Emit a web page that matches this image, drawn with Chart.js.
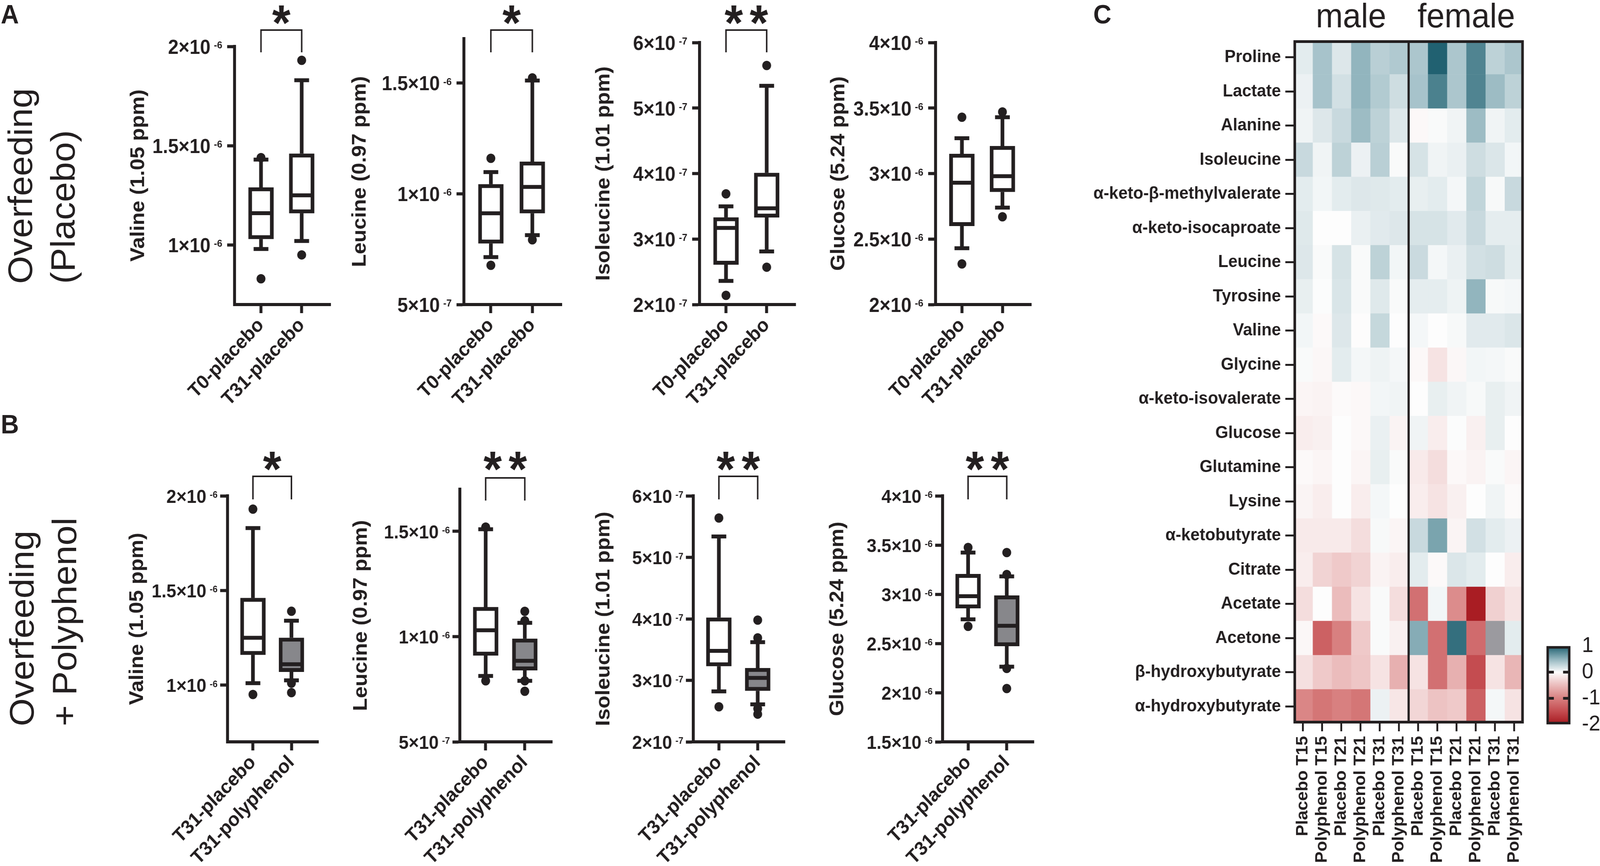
<!DOCTYPE html>
<html>
<head>
<meta charset="utf-8">
<script src="https://cdn.jsdelivr.net/npm/chart.js@4.4.1/dist/chart.umd.min.js"></script>
<style>
  html, body { margin: 0; padding: 0; background: #fff; overflow: hidden; }
  #page { position: absolute; left: 0; top: 0; width: 4332px; height: 2218px; transform-origin: 0 0;
          font-family: 'Liberation Sans', Arial, sans-serif; color: #231f20; background: #fff; }
  canvas { position: absolute; }
  .panel { position: absolute; font-weight: bold; font-size: 68px; line-height: 68px; }
  .rowtitle { position: absolute; font-size: 92px; line-height: 115px; white-space: nowrap;
              transform: rotate(-90deg); transform-origin: 0 0; }
</style>
</head>
<body>
<div id="page">
  <div class="panel" style="left:2px;top:2px">A</div>
  <div class="panel" style="left:2px;top:1052px">B</div>
  <div class="panel" style="left:2960px;top:2px">C</div>
  <div class="rowtitle" style="left:-2px;top:727px">Overfeeding<br>(Placebo)</div>
  <div class="rowtitle" style="left:2px;top:1860px">Overfeeding<br>+ Polyphenol</div>
</div>

<script>
const INK = '#231f20';
const FONT = "'Liberation Sans', Arial, sans-serif";
Chart.defaults.font.family = FONT;
Chart.defaults.color = INK;

// stretch the 4332x2218 layout over whatever viewport we get
const page = document.getElementById('page');
const fitX = window.innerWidth / 4332, fitY = window.innerHeight / 2218;
if (Math.abs(fitX - 1) > 0.002 || Math.abs(fitY - 1) > 0.002) {
  page.style.transform = 'scale(' + fitX + ',' + fitY + ')';
}

// --- Box plot data ---
const groupsA = ['T0-placebo', 'T31-placebo'];
const groupsB = ['T31-placebo', 'T31-polyphenol'];

// [lower whisker, Q1, median, Q3, upper whisker] per group
// Valine, Leucine, Glucose in units of 1e-6, Isoleucine in units of 1e-7
const valineA = [[0.98, 1.03, 1.16, 1.29, 1.43], [1.02, 1.16, 1.25, 1.46, 1.83]];
const valineAOut = [[1.44, 0.83], [1.93, 0.95]];
const leucineA = [[0.714, 0.776, 0.912, 1.043, 1.098], [0.813, 0.912, 1.031, 1.145, 1.511]];
const leucineAOut = [[1.16, 0.677], [1.523, 0.792]];
const isoleucineA = [[2.36, 2.61, 3.17, 3.33, 3.50], [2.81, 3.33, 3.47, 4.01, 5.34]];
const isoleucineAOut = [[3.69, 2.14], [5.65, 2.57]];
const glucoseA = [[2.43, 2.60, 2.93, 3.15, 3.27], [2.74, 2.86, 2.98, 3.21, 3.43]];
const glucoseAOut = [[3.43, 2.31], [3.47, 2.67]];

const valineB = [[1.01, 1.16, 1.25, 1.46, 1.83], [1.025, 1.07, 1.11, 1.25, 1.34]];
const valineBOut = [[1.93, 0.95], [1.39, 1.01, 0.96]];
const leucineB = [[0.813, 0.91, 1.03, 1.14, 1.51], [0.79, 0.84, 0.885, 0.99, 1.065]];
const leucineBOut = [[1.52, 0.79], [1.12, 1.075, 0.79, 0.74]];
const isoleucineB = [[2.82, 3.23, 3.48, 4.02, 5.34], [2.61, 2.83, 3.04, 3.20, 3.62]];
const isoleucineBOut = [[5.64, 2.57], [3.98, 3.69, 2.54, 2.45]];
const glucoseB = [[2.745, 2.857, 2.98, 3.205, 3.424], [2.264, 2.473, 2.68, 2.987, 3.182]];
const glucoseBOut = [[3.475, 2.674], [3.424, 3.2, 2.246, 2.042]];

const ticksValine = [1, 1.5, 2];
const ticksLeucine = [0.5, 1, 1.5];
const ticksIsoleucine = [2, 3, 4, 5, 6];
const ticksGlucoseA = [2, 2.5, 3, 3.5, 4];
const ticksGlucoseB = [1.5, 2, 2.5, 3, 3.5, 4];

// --- Heatmap data ---
const heatRows = ['Proline', 'Lactate', 'Alanine', 'Isoleucine', 'α-keto-β-methylvalerate',
  'α-keto-isocaproate', 'Leucine', 'Tyrosine', 'Valine', 'Glycine', 'α-keto-isovalerate',
  'Glucose', 'Glutamine', 'Lysine', 'α-ketobutyrate', 'Citrate', 'Acetate', 'Acetone',
  'β-hydroxybutyrate', 'α-hydroxybutyrate'];
const heatCols = ['Placebo T15', 'Polyphenol T15', 'Placebo T21', 'Polyphenol T21', 'Placebo T31', 'Polyphenol T31',
  'Placebo T15', 'Polyphenol T15', 'Placebo T21', 'Polyphenol T21', 'Placebo T31', 'Polyphenol T31'];
const sexGroups = ['male', 'female'];
// one row per metabolite, columns: 6 male then 6 female (null = no colour)
const heatValues = [
  [0.12, 0.40, 0.15, 0.50, 0.32, 0.36, 0.38, 0.98, 0.38, 0.78, 0.30, 0.38],
  [0.08, 0.40, 0.20, 0.50, 0.35, 0.22, 0.40, 0.80, 0.38, 0.78, 0.45, 0.30],
  [0.06, 0.15, 0.25, 0.45, 0.30, 0.15, -0.04, 0.02, 0.06, 0.45, 0.06, 0.12],
  [0.25, 0.06, 0.30, 0.08, 0.32, 0.02, 0.18, 0.06, 0.09, 0.22, 0.16, 0.05],
  [0.12, 0.05, 0.12, 0.15, 0.14, 0.12, 0.10, 0.12, 0.04, 0.28, 0.03, 0.25],
  [0.14, 0.00, 0.00, 0.09, 0.13, 0.15, 0.18, 0.18, 0.13, 0.25, 0.11, 0.11],
  [0.15, 0.02, 0.18, 0.02, 0.30, 0.05, 0.24, 0.04, 0.09, 0.20, 0.22, 0.12],
  [0.10, 0.01, 0.17, 0.02, 0.14, 0.02, 0.11, 0.11, 0.07, 0.50, 0.03, 0.04],
  [0.05, -0.03, 0.15, -0.01, 0.26, 0.00, 0.04, 0.00, 0.03, 0.13, 0.13, 0.16],
  [0.02, -0.05, 0.12, 0.04, 0.07, 0.04, -0.04, -0.20, -0.05, 0.05, 0.04, 0.02],
  [-0.06, -0.08, -0.02, -0.04, 0.05, 0.06, 0.00, 0.10, 0.06, 0.03, 0.10, 0.06],
  [-0.12, -0.10, 0.00, -0.04, 0.09, -0.08, 0.06, -0.12, 0.01, -0.10, 0.10, 0.00],
  [-0.03, -0.06, 0.00, -0.06, 0.10, 0.02, -0.15, -0.25, -0.04, -0.08, 0.02, -0.06],
  [-0.07, -0.12, 0.00, -0.12, 0.04, 0.00, -0.12, -0.20, -0.10, 0.00, 0.06, -0.02],
  [-0.15, -0.15, -0.15, -0.25, 0.03, -0.06, 0.25, 0.60, -0.07, 0.20, 0.12, 0.08],
  [-0.12, -0.32, -0.40, -0.32, -0.08, -0.12, 0.12, -0.03, 0.16, 0.12, 0.00, -0.12],
  [-0.25, 0.00, -0.50, -0.20, 0.02, -0.25, -1.15, 0.05, -0.90, -1.95, -0.35, -0.20],
  [-0.05, -1.30, -1.00, -0.40, 0.02, -0.10, 0.55, -1.15, 0.90, -1.20, null, 0.12],
  [-0.22, -0.40, -0.50, -0.42, -0.20, -0.60, -0.20, -1.15, -0.60, -1.50, -0.20, -0.55],
  [-0.95, -1.10, -1.00, -1.10, 0.08, -0.18, -0.30, -0.45, -0.40, -1.30, 0.04, -0.20]
];
const colorbarRange = [-2, 1];
const colorbarTicks = [1, 0, -1, -2];

// --- colour scale (value, r, g, b) ---
const colorStops = [
  [-2, 166, 24, 30], [-1.5, 196, 76, 80], [-1, 216, 128, 128], [-0.5, 235, 188, 188],
  [0, 253, 253, 253], [0.5, 146, 181, 190], [1, 28, 94, 110]
];
function heatColor(v) {
  if (v === null) return '#9b9a9f';
  const t = Math.max(-2, Math.min(1, v));
  for (let i = 0; i < colorStops.length - 1; i++) {
    const [v0, ...c0] = colorStops[i];
    const [v1, ...c1] = colorStops[i + 1];
    if (t >= v0 && t <= v1) {
      const f = (t - v0) / (v1 - v0);
      return 'rgb(' + c0.map((c, k) => Math.round(c + (c1[k] - c) * f)).join(',') + ')';
    }
  }
  return '#fff';
}

// split a value into "m×10" and exponent text
function sciParts(v) {
  const e = Math.floor(Math.log10(v) + 1e-9);
  const m = Math.round(v / Math.pow(10, e) * 100) / 100;
  return [m + '×10', String(e)];
}

function addCanvas(left, top, w, h) {
  const cv = document.createElement('canvas');
  cv.width = w; cv.height = h;
  cv.style.left = left + 'px'; cv.style.top = top + 'px';
  cv.style.width = w + 'px'; cv.style.height = h + 'px';
  page.appendChild(cv);
  return cv;
}

// --- whiskers, medians, brackets and the a×10^b tick labels ---
const boxParts = {
  id: 'boxParts',
  afterDatasetsDraw(chart, args, o) {
    const { ctx, scales: { x, y } } = chart;
    ctx.save();
    ctx.strokeStyle = INK;
    ctx.fillStyle = INK;
    const seg = (x1, y1, x2, y2, w) => {
      ctx.lineWidth = w;
      ctx.beginPath(); ctx.moveTo(x1, y1); ctx.lineTo(x2, y2); ctx.stroke();
    };
    o.stats.forEach((s, i) => {
      const cx = x.getPixelForValue(i + 1);
      const [lo, q1, med, q3, hi] = s.map(v => y.getPixelForValue(v));
      seg(cx, q3, cx, hi, 10);
      seg(cx, q1, cx, lo, 10);
      seg(cx - 20, hi, cx + 20, hi, 10);
      seg(cx - 20, lo, cx + 20, lo, 10);
      seg(cx - 30, med, cx + 30, med, 10);
    });
    if (o.sig) {
      const x1 = x.getPixelForValue(1), x2 = x.getPixelForValue(2);
      ctx.lineWidth = 4;
      ctx.beginPath();
      ctx.moveTo(x1, o.bracket[1]); ctx.lineTo(x1, o.bracket[0]);
      ctx.lineTo(x2, o.bracket[0]); ctx.lineTo(x2, o.bracket[1]);
      ctx.stroke();
      ctx.font = 'bold 128px ' + FONT;
      ctx.textAlign = 'center';
      ctx.textBaseline = 'alphabetic';
      const m = ctx.measureText('*');
      const base = o.starY + (m.actualBoundingBoxAscent - m.actualBoundingBoxDescent) / 2;
      const mid = (x1 + x2) / 2;
      const n = o.sig.length;
      for (let k = 0; k < n; k++) ctx.fillText('*', mid + (k - (n - 1) / 2) * 68, base);
    }
    // y tick labels with raised exponent
    ctx.textAlign = 'right';
    ctx.textBaseline = 'alphabetic';
    const [mainSize, expSize, gap] = o.tickFont;
    const right = chart.chartArea.left - gap;
    o.ticks.forEach(v => {
      const py = y.getPixelForValue(v);
      const [main, exp] = sciParts(v * o.unit);
      ctx.font = 'bold ' + expSize + 'px ' + FONT;
      const ew = ctx.measureText(exp).width;
      ctx.fillText(exp, right, py + 5);
      ctx.font = 'bold ' + mainSize + 'px ' + FONT;
      ctx.fillText(main, right - ew - 9, py + mainSize * 0.37);
    });
    ctx.restore();
  }
};

const fillA = ['#ffffff', '#ffffff'];
const fillB = ['#ffffff', '#87878b'];
const tickFontA = [51, 26, 33];
const tickFontB = [48, 24, 27];

const plots = [
  { title: 'Valine (1.05 ppm)', groups: groupsA, stats: valineA, outliers: valineAOut, unit: 1e-6, ticks: ticksValine, min: 0.7, max: 2, fills: fillA, sig: '*',
    axisX: 635, top: 119, bottom: 780, len: 262, xr: [0.35, 2.71], titleDist: 260, bracket: [77, 134], starY: 38, tickFont: tickFontA },
  { title: 'Leucine (0.97 ppm)', groups: groupsA, stats: leucineA, outliers: leucineAOut, unit: 1e-6, ticks: ticksLeucine, min: 0.5, max: 1.7, fills: fillA, sig: '*',
    axisX: 1256, top: 99, bottom: 780, len: 267, xr: [0.35, 2.71], titleDist: 281, bracket: [77, 134], starY: 38, tickFont: tickFontA },
  { title: 'Isoleucine (1.01 ppm)', groups: groupsA, stats: isoleucineA, outliers: isoleucineAOut, unit: 1e-7, ticks: ticksIsoleucine, min: 2, max: 6, fills: fillA, sig: '**',
    axisX: 1894, top: 109, bottom: 780, len: 262, xr: [0.35, 2.71], titleDist: 259, bracket: [77, 134], starY: 38, tickFont: tickFontA },
  { title: 'Glucose (5.24 ppm)', groups: groupsA, stats: glucoseA, outliers: glucoseAOut, unit: 1e-6, ticks: ticksGlucoseA, min: 2, max: 4, fills: fillA, sig: null,
    axisX: 2533, top: 109, bottom: 780, len: 261, xr: [0.35, 2.71], titleDist: 262, bracket: [77, 134], starY: 38, tickFont: tickFontA },
  { title: 'Valine (1.05 ppm)', groups: groupsB, stats: valineB, outliers: valineBOut, unit: 1e-6, ticks: ticksValine, min: 0.7, max: 2, fills: fillB, sig: '*',
    axisX: 616, top: 1270, bottom: 1900, len: 248, xr: [0.34, 2.70], titleDist: 244, bracket: [1220, 1279], starY: 1181, tickFont: tickFontB },
  { title: 'Leucine (0.97 ppm)', groups: groupsB, stats: leucineB, outliers: leucineBOut, unit: 1e-6, ticks: ticksLeucine, min: 0.5, max: 1.7, fills: fillB, sig: '**',
    axisX: 1245, top: 1253, bottom: 1900, len: 252, xr: [0.34, 2.70], titleDist: 267, bracket: [1224, 1282], starY: 1181, tickFont: tickFontB },
  { title: 'Isoleucine (1.01 ppm)', groups: groupsB, stats: isoleucineB, outliers: isoleucineBOut, unit: 1e-7, ticks: ticksIsoleucine, min: 2, max: 6, fills: fillB, sig: '**',
    axisX: 1877, top: 1270, bottom: 1900, len: 250, xr: [0.34, 2.70], titleDist: 242, bracket: [1220, 1279], starY: 1181, tickFont: tickFontB },
  { title: 'Glucose (5.24 ppm)', groups: groupsB, stats: glucoseB, outliers: glucoseBOut, unit: 1e-6, ticks: ticksGlucoseB, min: 1.5, max: 4, fills: fillB, sig: '**',
    axisX: 2552, top: 1270, bottom: 1900, len: 249, xr: [0.34, 2.70], titleDist: 284, bracket: [1220, 1279], starY: 1181, tickFont: tickFontB }
];

function makeBoxChart(p) {
  const W = 330, PT = 160, XH = 330, PR = 10;
  const canvasTop = p.top - PT;
  const cv = addCanvas(p.axisX - W, canvasTop, W + p.len + PR, PT + (p.bottom - p.top) + XH);
  const boxData = p.stats.map((s, i) => ({ x: i + 1, y: [s[1], s[3]] }));
  const outData = [];
  p.outliers.forEach((list, i) => list.forEach(v => outData.push({ x: i + 1, y: v })));

  new Chart(cv, {
    type: 'bar',
    data: {
      datasets: [
        { type: 'bar', data: boxData, backgroundColor: p.fills, borderColor: INK,
          borderWidth: 10, borderSkipped: false, barThickness: 68 },
        { type: 'scatter', data: outData, pointRadius: 12, pointBackgroundColor: INK,
          pointBorderWidth: 0 }
      ]
    },
    options: {
      responsive: false, animation: false, devicePixelRatio: 1,
      layout: { padding: { top: PT, right: PR, left: 0, bottom: 0 } },
      scales: {
        x: {
          type: 'linear', min: p.xr[0], max: p.xr[1], offset: false,
          afterBuildTicks: s => { s.ticks = [{ value: 1 }, { value: 2 }]; },
          afterFit: s => { s.height = XH; },
          border: { display: true, width: 8, color: INK },
          grid: { display: true, drawOnChartArea: false, offset: false, tickLength: 22, tickWidth: 8, tickColor: INK },
          ticks: { autoSkip: false, minRotation: 45, maxRotation: 45, padding: 2, color: INK,
                   font: { size: 50, weight: 'bold' }, callback: (v, i) => p.groups[i] }
        },
        y: {
          type: 'linear', min: p.min, max: p.max, beginAtZero: false,
          afterBuildTicks: s => { s.ticks = p.ticks.map(v => ({ value: v })); },
          afterFit: s => { s.width = W; },
          border: { display: true, width: 8, color: INK },
          grid: { display: true, drawOnChartArea: false, tickLength: 20, tickWidth: 8, tickColor: INK },
          ticks: { display: false },
          title: { display: true, text: p.title, color: INK, font: { size: 54, weight: 'bold' },
                   padding: { top: W - p.titleDist - 32.4, bottom: 0 } }
        }
      },
      plugins: {
        legend: { display: false },
        tooltip: { enabled: false },
        boxParts: {
          stats: p.stats, sig: p.sig, ticks: p.ticks, unit: p.unit, tickFont: p.tickFont,
          bracket: [p.bracket[0] - canvasTop, p.bracket[1] - canvasTop],
          starY: p.starY - canvasTop
        }
      }
    },
    plugins: [boxParts]
  });
}

plots.forEach(makeBoxChart);

// --- Heatmap ---
const heatFrame = {
  id: 'heatFrame',
  afterDatasetsDraw(chart) {
    const { ctx, chartArea: a, scales: { x } } = chart;
    ctx.save();
    ctx.strokeStyle = INK;
    ctx.lineWidth = 6;
    const xm = x.getPixelForValue(6);
    ctx.beginPath(); ctx.moveTo(xm, a.top); ctx.lineTo(xm, a.bottom); ctx.stroke();
    ctx.lineWidth = 7;
    ctx.strokeRect(a.left + 3.5, a.top + 3.5, a.right - a.left - 7, a.bottom - a.top - 7);
    ctx.fillStyle = INK;
    ctx.font = '88px ' + FONT;
    ctx.textAlign = 'center';
    ctx.textBaseline = 'alphabetic';
    ctx.fillText(sexGroups[0], x.getPixelForValue(3), 70);
    ctx.fillText(sexGroups[1], x.getPixelForValue(9), 70);
    ctx.restore();
  }
};

(function makeHeatmap() {
  const left = 2940, top = 0, areaLeft = 3502, areaRight = 4153, areaTop = 103, areaBottom = 1853;
  const w = 1225, h = 2218;
  const cv = addCanvas(left, top, w, h);
  new Chart(cv, {
    type: 'bar',
    data: {
      labels: heatRows,
      datasets: heatCols.map((col, c) => ({
        label: col,
        data: heatRows.map(() => [c, c + 1]),
        backgroundColor: heatValues.map(row => heatColor(row[c])),
        borderWidth: 0,
        barPercentage: 1,
        categoryPercentage: 1,
        grouped: false
      }))
    },
    options: {
      indexAxis: 'y',
      responsive: false, animation: false, devicePixelRatio: 1,
      layout: { padding: { top: areaTop - top, right: left + w - areaRight, left: 0, bottom: 0 } },
      scales: {
        y: {
          type: 'category',
          afterFit: s => { s.width = areaLeft - left; },
          border: { display: false },
          grid: { display: true, drawOnChartArea: false, offset: false, tickLength: 22, tickWidth: 5, tickColor: INK },
          ticks: { autoSkip: false, padding: 12, color: INK, font: { size: 45, weight: 'bold' } }
        },
        x: {
          type: 'linear', min: 0, max: 12, offset: false,
          afterBuildTicks: s => { s.ticks = heatCols.map((_, i) => ({ value: i + 0.5 })); },
          afterFit: s => { s.height = h - areaBottom; },
          border: { display: false },
          grid: { display: true, drawOnChartArea: false, offset: false, tickLength: 20, tickWidth: 5, tickColor: INK },
          ticks: { autoSkip: false, minRotation: 90, maxRotation: 90, padding: 12, color: INK,
                   font: { size: 44, weight: 'bold' }, callback: (v, i) => heatCols[i] }
        }
      },
      plugins: { legend: { display: false }, tooltip: { enabled: false } }
    },
    plugins: [heatFrame]
  });
})();

// --- Colour bar ---
const barDashes = {
  id: 'barDashes',
  afterDatasetsDraw(chart) {
    const { ctx, chartArea: a, scales: { y } } = chart;
    ctx.save();
    ctx.strokeStyle = INK;
    ctx.lineWidth = 7;
    [0, -1].forEach(v => {
      const py = y.getPixelForValue(v);
      ctx.beginPath();
      ctx.moveTo(a.left, py); ctx.lineTo(a.left + 20, py);
      ctx.moveTo(a.right - 20, py); ctx.lineTo(a.right, py);
      ctx.stroke();
    });
    ctx.restore();
  }
};

(function makeColorbar() {
  const cv = addCanvas(4177, 1590, 155, 330);
  new Chart(cv, {
    type: 'bar',
    data: {
      labels: [''],
      datasets: [{
        data: [colorbarRange],
        backgroundColor: (c) => {
          const { chart } = c;
          if (!chart.chartArea) return '#fff';
          const y = chart.scales.y;
          const g = chart.ctx.createLinearGradient(0, y.getPixelForValue(colorbarRange[1]), 0, y.getPixelForValue(colorbarRange[0]));
          const span = colorbarRange[1] - colorbarRange[0];
          colorStops.forEach(s => g.addColorStop((colorbarRange[1] - s[0]) / span, `rgb(${s[1]},${s[2]},${s[3]})`));
          return g;
        },
        borderColor: INK, borderWidth: 7, borderSkipped: false,
        barPercentage: 1, categoryPercentage: 1
      }]
    },
    options: {
      responsive: false, animation: false, devicePixelRatio: 1,
      layout: { padding: { left: 10, top: 36, bottom: 33, right: 0 } },
      scales: {
        x: { display: false },
        y: {
          position: 'right', min: colorbarRange[0], max: colorbarRange[1], beginAtZero: false,
          afterBuildTicks: s => { s.ticks = colorbarTicks.map(v => ({ value: v })); },
          afterFit: s => { s.width = 80; },
          border: { display: false },
          grid: { display: false, drawTicks: false },
          ticks: { padding: 31, color: INK, font: { size: 56, weight: 'normal' } }
        }
      },
      plugins: { legend: { display: false }, tooltip: { enabled: false } }
    },
    plugins: [barDashes]
  });
})();
</script>
</body>
</html>
